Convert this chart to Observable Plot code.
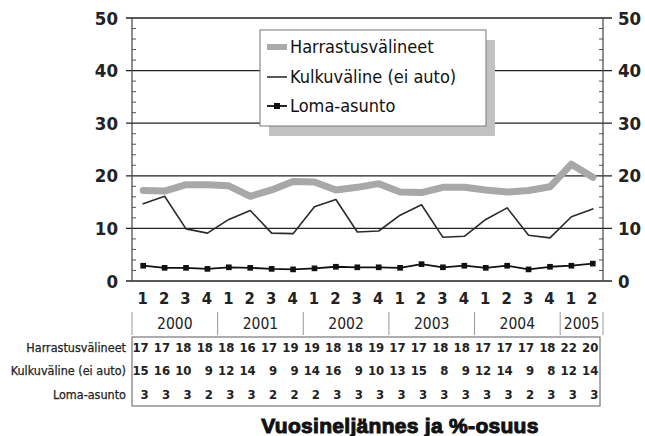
<!DOCTYPE html>
<html>
<head>
<meta charset="utf-8">
<script src="https://cdn.jsdelivr.net/npm/d3@7"></script>
<script src="https://cdn.jsdelivr.net/npm/@observablehq/plot@0.6"></script>
<style>
  html, body { margin: 0; padding: 0; background: #fff; }
  svg text { font-family: "Liberation Sans Narrow", "DejaVu Sans Condensed", "Roboto", sans-serif; }
</style>
</head>
<body>
<div id="chart"></div>
<script>
// ---- data ----
const quarterLabels = ["1","2","3","4","1","2","3","4","1","2","3","4","1","2","3","4","1","2","3","4","1","2"];
const years = ["2000","2001","2002","2003","2004","2005"];
const yearFirstIndex = [0, 4, 8, 12, 16, 20];
const yearLastIndex = [3, 7, 11, 15, 19, 21];
const seriesNames = ["Harrastusvälineet", "Kulkuväline (ei auto)", "Loma-asunto"];
// plotted values
const harrastus = [17.3,17.2,18.4,18.4,18.2,16.2,17.4,19.0,18.9,17.4,17.9,18.6,17.0,16.9,17.9,17.9,17.4,17.0,17.3,18.0,22.3,19.8];
const kulku = [14.8,16.2,10.0,9.2,11.8,13.5,9.2,9.1,14.2,15.6,9.4,9.6,12.6,14.6,8.4,8.6,11.8,14.0,8.8,8.3,12.3,13.8];
const loma = [3.0,2.6,2.6,2.4,2.7,2.6,2.4,2.3,2.5,2.8,2.7,2.7,2.6,3.3,2.7,3.0,2.6,3.0,2.3,2.8,3.0,3.4];
// table values (as printed)
const tableHarrastus = [17,17,18,18,18,16,17,19,19,18,18,19,17,17,18,18,17,17,17,18,22,20];
const tableKulku = [15,16,10,9,12,14,9,9,14,16,9,10,13,15,8,9,12,14,9,8,12,14];
const tableLoma = [3,3,3,2,3,3,2,2,2,3,3,3,3,3,3,3,3,3,2,3,3,3];
const majorTicks = [0, 10, 20, 30, 40, 50];
const minorTicks = [2,4,6,8,12,14,16,18,22,24,26,28,32,34,36,38,42,44,46,48];
const xTitle = "Vuosineljännes ja %-osuus";

const idx = d3.range(quarterLabels.length);
const rows = (arr) => idx.map(i => ({i, v: arr[i]}));
const tableRows = [tableHarrastus, tableKulku, tableLoma];

// frame, grid, axes
function axesMark(index, scales) {
  const {x, y} = scales;
  const g = d3.create("svg:g");
  const x0 = x(-0.5), x1 = x(quarterLabels.length - 0.5);
  for (const t of majorTicks) {
    g.append("line").attr("x1", x0 - 6).attr("x2", x1 + 9)
      .attr("y1", y(t)).attr("y2", y(t)).attr("stroke", "#222").attr("stroke-width", 1.3);
    g.append("text").attr("x", x0 - 14).attr("y", y(t)).attr("dy", "0.36em")
      .attr("text-anchor", "end").attr("font-size", 18.5).attr("font-weight", "bold").attr("fill", "#222").text(t);
    g.append("text").attr("x", x1 + 15).attr("y", y(t)).attr("dy", "0.36em")
      .attr("text-anchor", "start").attr("font-size", 18.5).attr("font-weight", "bold").attr("fill", "#222").text(t);
  }
  for (const t of minorTicks) {
    g.append("line").attr("x1", x0).attr("x2", x0 + 4).attr("y1", y(t)).attr("y2", y(t)).attr("stroke", "#555");
    g.append("line").attr("x1", x1 - 4).attr("x2", x1).attr("y1", y(t)).attr("y2", y(t)).attr("stroke", "#555");
  }
  g.append("line").attr("x1", x0).attr("x2", x0).attr("y1", y(0)).attr("y2", y(50)).attr("stroke", "#444").attr("stroke-width", 1.2);
  g.append("line").attr("x1", x1).attr("x2", x1).attr("y1", y(0)).attr("y2", y(50)).attr("stroke", "#444").attr("stroke-width", 1.2);
  return g.node();
}

// quarter / year labels and data table under the chart
function tableMark(index, scales) {
  const {x, y} = scales;
  const g = d3.create("svg:g").attr("fill", "#222");
  const base = y(0);
  const x0 = x(-0.5), x1 = x(quarterLabels.length - 0.5);
  idx.forEach(i => {
    g.append("text").attr("x", x(i)).attr("y", base + 17).attr("dy", "0.36em")
      .attr("text-anchor", "middle").attr("font-size", 16.5).attr("font-weight", "bold").text(quarterLabels[i]);
  });
  years.forEach((yr, k) => {
    const a = x(yearFirstIndex[k] - 0.5), b = x(yearLastIndex[k] + 0.5);
    g.append("text").attr("x", (a + b) / 2).attr("y", base + 42).attr("dy", "0.36em")
      .attr("text-anchor", "middle").attr("font-size", 15.5).text(yr);
    g.append("line").attr("x1", a).attr("x2", a).attr("y1", base + 31).attr("y2", base + 54).attr("stroke", "#999");
    if (k === years.length - 1)
      g.append("line").attr("x1", b).attr("x2", b).attr("y1", base + 31).attr("y2", base + 54).attr("stroke", "#999");
  });
  g.append("rect").attr("x", x0).attr("y", base + 56).attr("width", x1 - x0 - 3).attr("height", 69)
    .attr("fill", "none").attr("stroke", "#777").attr("stroke-width", 1.2);
  tableRows.forEach((arr, r) => {
    const yy = base + 66 + r * 23.5;
    g.append("text").attr("x", x0 - 6).attr("y", yy).attr("dy", "0.36em")
      .attr("text-anchor", "end").attr("font-size", 12.5).attr("stroke", "#222").attr("stroke-width", 0.25)
      .text(seriesNames[r]);
    idx.forEach(i => {
      g.append("text").attr("x", x(i) + 6).attr("y", yy).attr("dy", "0.36em")
        .attr("text-anchor", "end").attr("font-size", 13).attr("font-weight", "bold").text(arr[i]);
    });
  });
  g.append("text").attr("x", 400).attr("y", base + 144).attr("dy", "0.36em")
    .attr("text-anchor", "middle").attr("font-size", 21).attr("font-weight", "900")
    .attr("letter-spacing", 0.3)
    .attr("stroke", "#111").attr("stroke-width", 1)
    .style("font-family", "'Liberation Sans', Arial, sans-serif").attr("fill", "#111").text(xTitle);
  return g.node();
}

// legend box with shadow
function legendMark() {
  const g = d3.create("svg:g");
  const bx = 260, by = 30, bw = 226, bh = 96;
  g.append("rect").attr("x", bx + 9).attr("y", by + 10).attr("width", bw).attr("height", bh).attr("fill", "#c2c2c2");
  g.append("rect").attr("x", bx).attr("y", by).attr("width", bw).attr("height", bh)
    .attr("fill", "#fff").attr("stroke", "#777").attr("stroke-width", 1);
  const ys = [47, 77, 106];
  // Harrastus
  g.append("line").attr("x1", 267).attr("x2", 287).attr("y1", ys[0]).attr("y2", ys[0]).attr("stroke", "#aaa").attr("stroke-width", 6);
  // Kulku
  g.append("line").attr("x1", 267).attr("x2", 287).attr("y1", ys[1]).attr("y2", ys[1]).attr("stroke", "#222").attr("stroke-width", 1.5);
  // Loma
  g.append("line").attr("x1", 267).attr("x2", 287).attr("y1", ys[2]).attr("y2", ys[2]).attr("stroke", "#111").attr("stroke-width", 1.8);
  g.append("rect").attr("x", 274).attr("y", ys[2] - 3).attr("width", 6).attr("height", 6).attr("fill", "#111");
  seriesNames.forEach((s, k) => {
    g.append("text").attr("x", 290).attr("y", ys[k]).attr("dy", "0.36em").attr("font-size", 18)
      .attr("text-anchor", "start").attr("fill", "#111").text(s);
  });
  return g.node();
}

const chart = Plot.plot({
  width: 645,
  height: 436,
  marginLeft: 132,
  marginRight: 42,
  marginTop: 18,
  marginBottom: 155,
  x: {domain: [-0.5, quarterLabels.length - 0.5], axis: null},
  y: {domain: [0, 50], axis: null},
  marks: [
    axesMark,
    Plot.line(rows(harrastus), {x: "i", y: "v", stroke: "#a8a8a8", strokeWidth: 7, curve: "linear"}),
    Plot.line(rows(kulku), {x: "i", y: "v", stroke: "#2a2a2a", strokeWidth: 1.6}),
    Plot.line(rows(loma), {x: "i", y: "v", stroke: "#111", strokeWidth: 1.8}),
    Plot.dot(rows(loma), {x: "i", y: "v", symbol: "square", r: 3.2, fill: "#111"}),
    legendMark,
    tableMark
  ]
});
document.getElementById("chart").append(chart);
</script>
</body>
</html>
